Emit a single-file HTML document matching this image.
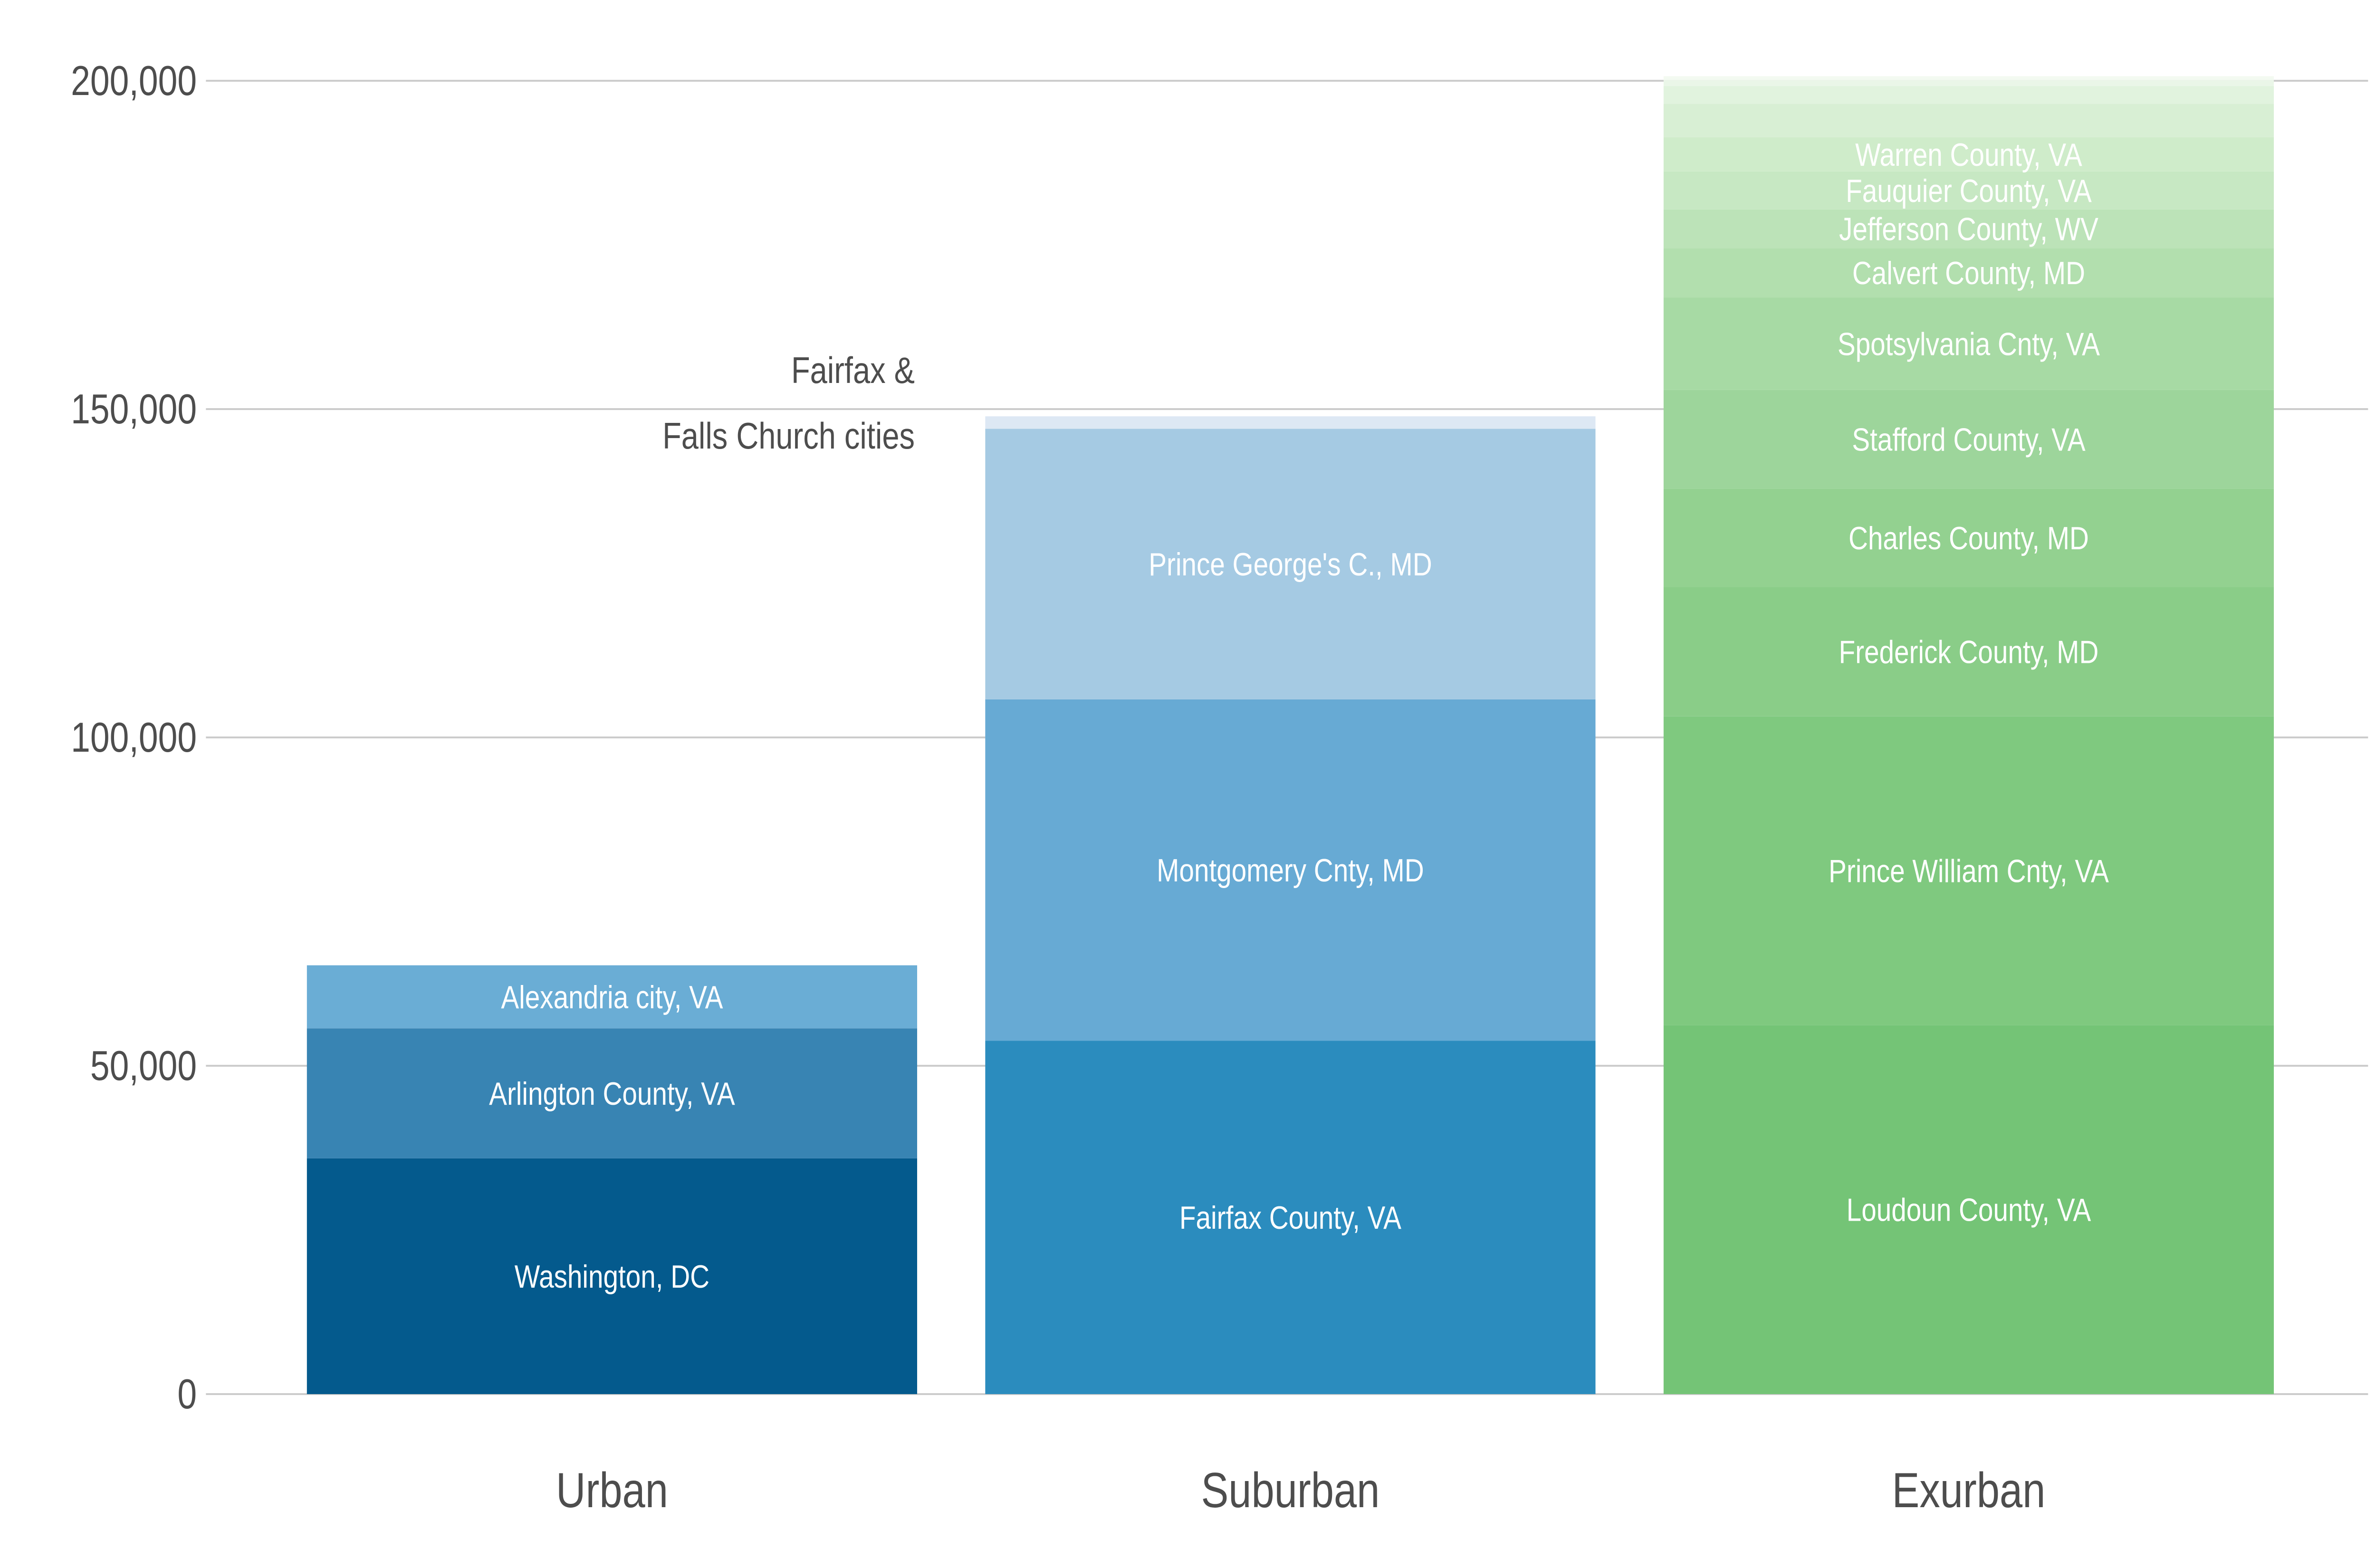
<!DOCTYPE html>
<html><head><meta charset="utf-8"><style>
html,body{margin:0;padding:0;background:#fff;width:100%;height:100%;overflow:hidden;}
svg{display:block;width:100vw;height:100vh;font-family:"Liberation Sans",Arial,sans-serif;}
</style></head><body>
<svg id="chart" viewBox="0 0 6000 3300" preserveAspectRatio="none" xmlns="http://www.w3.org/2000/svg">
<g id="grid"></g>
<g id="yaxis"></g>
<g id="bars"></g>
<g id="xaxis"></g>
<g fill="#4d4d4d" font-size="78" text-anchor="end">
<text x="2310" y="806">Fairfax &amp;</text>
<text x="2310" y="944">Falls Church cities</text>
</g>
</svg>
<script>
const categories = ["Urban","Suburban","Exurban"];
const urbanNames = ["Washington, DC","Arlington County, VA","Alexandria city, VA"];
const urbanValues = [35900, 19800, 9600];
const suburbanNames = ["Fairfax County, VA","Montgomery Cnty, MD","Prince George's C., MD",""];
const suburbanValues = [53800, 52000, 41200, 1900];
const exurbanNames = ["Loudoun County, VA","Prince William Cnty, VA","Frederick County, MD","Charles County, MD","Stafford County, VA","Spotsylvania Cnty, VA","Calvert County, MD","Jefferson County, WV","Fauquier County, VA","Warren County, VA","","","",""];
const exurbanValues = [56200, 47000, 19700, 15000, 15000, 14100, 7500, 5900, 5800, 5200, 5100, 2700, 900, 600];
const yTicks = [0, 50000, 100000, 150000, 200000];
const yTickLabels = ["0","50,000","100,000","150,000","200,000"];

const urbanColors = ["#045a8d","#3884b3","#6aadd5"];
const suburbanColors = ["#2b8cbe","#67aad4","#a5cae3","#dde8f4"];
const exurbanColors = ["#74c476","#7fc97f","#8acd88","#93d190","#9dd59b","#a7daa4","#b2dfae","#bce3b8","#c7e8c3","#cfecca","#d8efd4","#e1f3de","#eaf6e8","#f3faf1"];

const NS = "http://www.w3.org/2000/svg";
const y0 = 2934, yTop = 170, yMax = 200000;
function y(v){ return y0 - (v / yMax) * (y0 - yTop); }
const barW = 1541, firstX = 775, step = 1713;
function x(i){ return firstX + i * step; }
function mk(tag, attrs, parent){ const e = document.createElementNS(NS, tag); for (const k in attrs) e.setAttribute(k, attrs[k]); parent.appendChild(e); return e; }

const grid = document.getElementById('grid');
const yaxis = document.getElementById('yaxis');
yTicks.forEach((t, i) => {
  const l = mk('line', {x1: 520, x2: 5980, y1: y(t), y2: y(t), stroke: '#cccccc', 'stroke-width': 4}, grid);
  
  
  const tx = mk('text', {x: 497, y: y(t) + 30, 'text-anchor': 'end', 'font-size': 88, fill: '#4d4d4d'}, yaxis);
  tx.textContent = yTickLabels[i];
  
  
});

const bars = document.getElementById('bars');
const series = [[urbanNames, urbanValues, urbanColors],[suburbanNames, suburbanValues, suburbanColors],[exurbanNames, exurbanValues, exurbanColors]];
series.forEach((s, i) => {
  const [names, vals, cols] = s;
  let cum = 0;
  vals.forEach((v, j) => {
    const top = y(cum + v), bot = y(cum);
    const r = mk('rect', {x: x(i), y: top, width: barW, height: bot - top, fill: cols[j % cols.length]}, bars);
    
    
    cum += v;
  });
  cum = 0;
  vals.forEach((v, j) => {
    const mid = (y(cum) + y(cum + v)) / 2;
    if (names[j]) {
      const t = mk('text', {x: x(i) + barW / 2, y: mid + 24, 'text-anchor': 'middle', 'font-size': 68, fill: '#ffffff'}, bars);
      t.textContent = names[j];
      
      
    }
    cum += v;
  });
});

const xaxis = document.getElementById('xaxis');
categories.forEach((c, i) => {
  const t = mk('text', {x: x(i) + barW / 2, y: 3172, 'text-anchor': 'middle', 'font-size': 104, fill: '#4d4d4d'}, xaxis);
  t.textContent = c;
  
  
});
</script>
</body></html>
